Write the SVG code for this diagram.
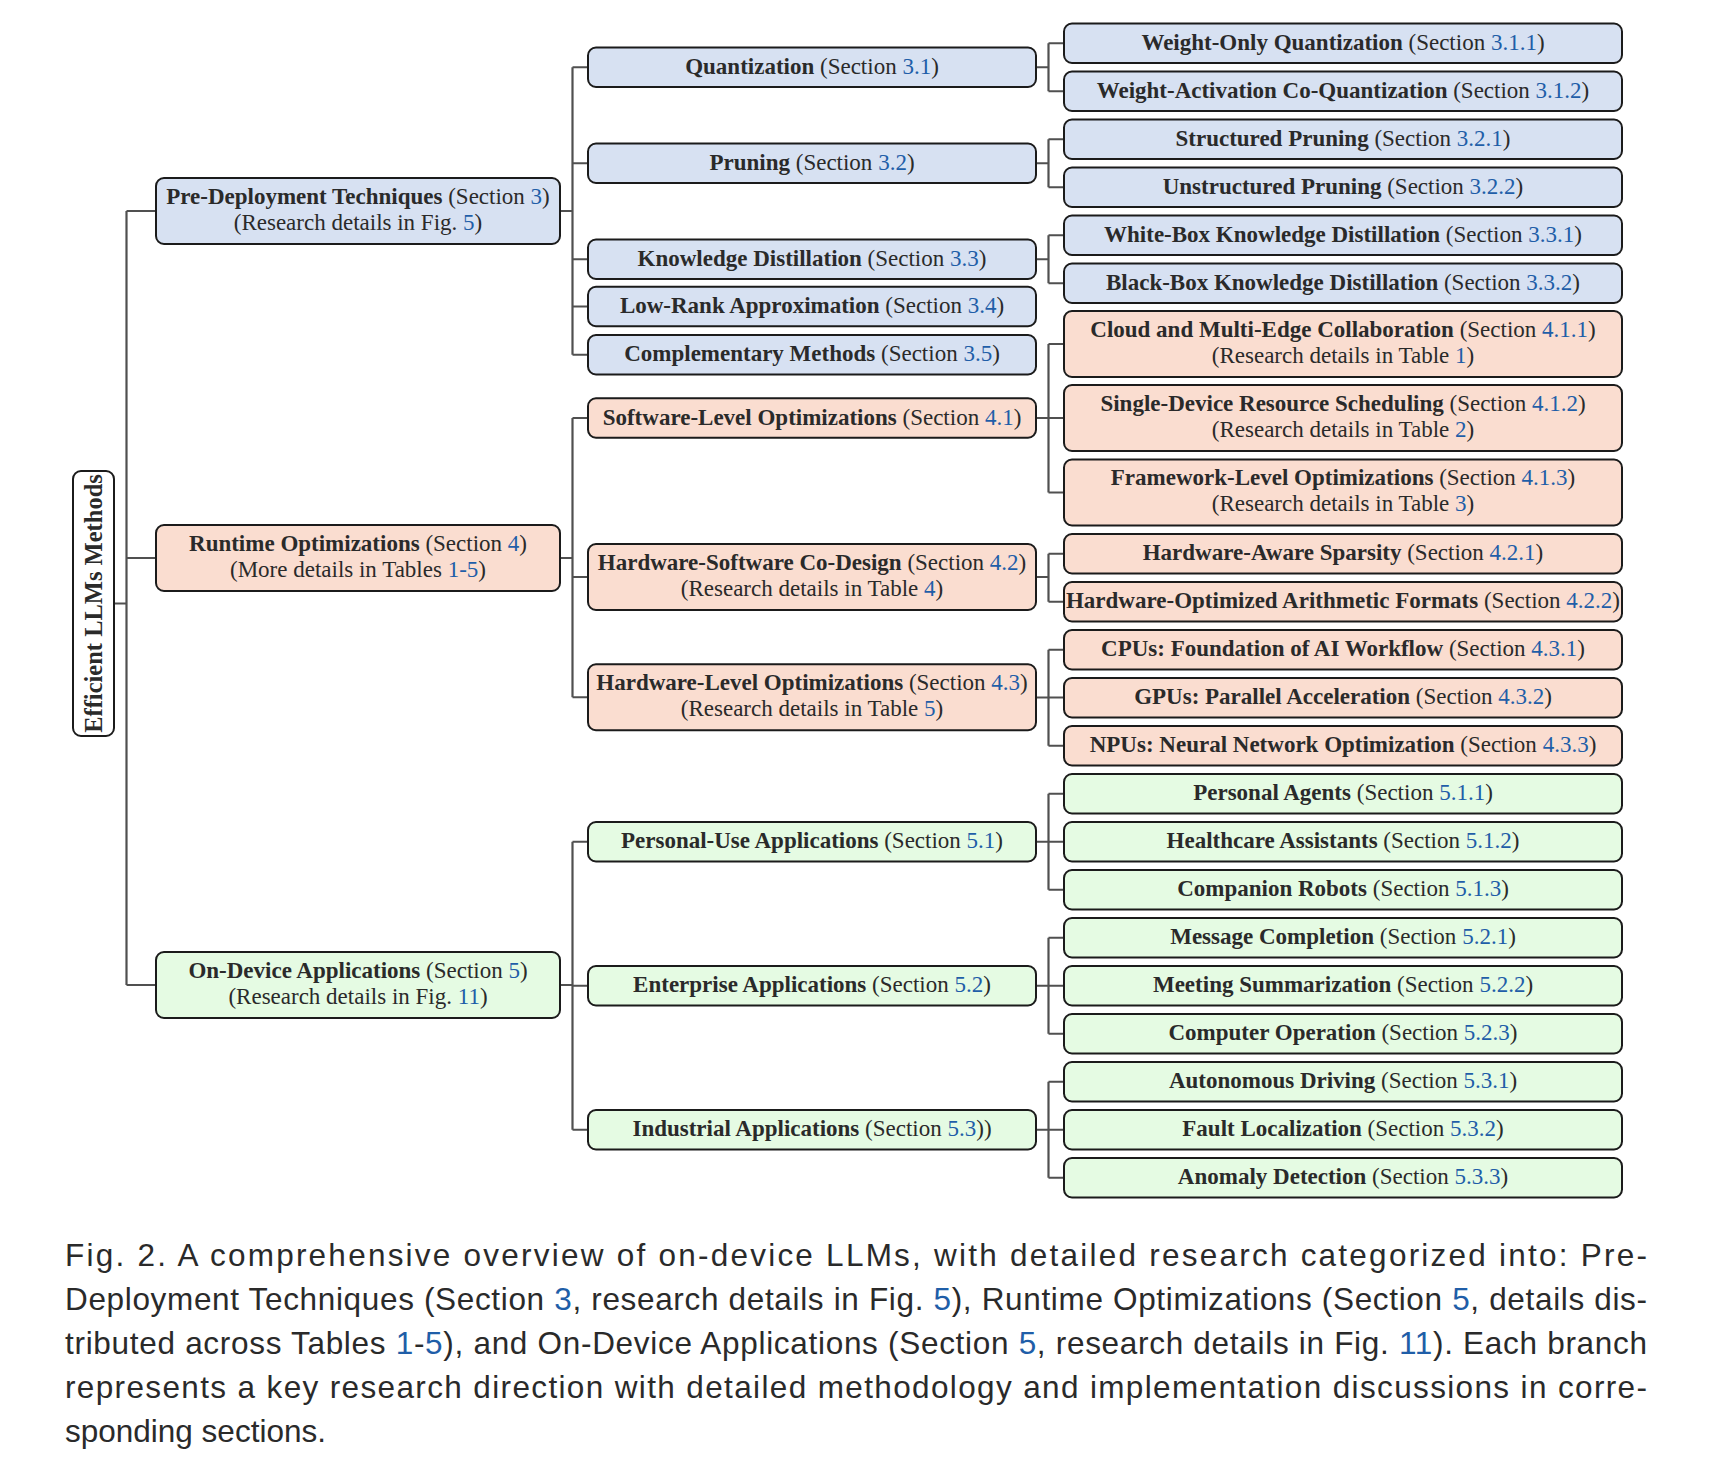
<svg xmlns="http://www.w3.org/2000/svg" width="1713" height="1465" viewBox="0 0 1713 1465">
<style>
.n{stroke:#1b1b1b;stroke-width:2}
.b{fill:#D7E1F2}.p{fill:#FADDD0}.g{fill:#E5FBE3}.w{fill:#ffffff}
.t{font-family:"Liberation Serif",serif;font-size:23px;fill:#2a2a2a;text-anchor:middle}
.r{font-size:24.5px}
.bd{font-weight:bold}
.num{fill:#1f5ea8}
.c{fill:none;stroke:#505050;stroke-width:2.2}
.cap{font-family:"Liberation Sans",sans-serif;font-size:31.5px;fill:#2a2a2a}
</style>
<rect width="1713" height="1465" fill="#ffffff"/>
<g id="connectors">
<path class="c" d="M114,603.5H126.5M126.5,211V985M126.5,211H156M126.5,558H156M126.5,985H156"/>
<path class="c" d="M560,211H572.5M572.5,67.25V354.75M572.5,67.25H588M572.5,163.25H588M572.5,259.25H588M572.5,306.5H588M572.5,354.75H588"/>
<path class="c" d="M560,558H572.5M572.5,418V697.25M572.5,418H588M572.5,577H588M572.5,697.25H588"/>
<path class="c" d="M560,985H572.5M572.5,841.75V1129.75M572.5,841.75H588M572.5,985.75H588M572.5,1129.75H588"/>
<path class="c" d="M1036,67.25H1048.5M1048.5,43.25V91.25M1048.5,43.25H1064M1048.5,91.25H1064"/>
<path class="c" d="M1036,163.25H1048.5M1048.5,139.25V187.25M1048.5,139.25H1064M1048.5,187.25H1064"/>
<path class="c" d="M1036,259.25H1048.5M1048.5,235.25V283.25M1048.5,235.25H1064M1048.5,283.25H1064"/>
<path class="c" d="M1036,418H1064M1048.5,344V492.5M1048.5,344H1064M1048.5,492.5H1064"/>
<path class="c" d="M1036,577H1048.5M1048.5,553.75V601.75M1048.5,553.75H1064M1048.5,601.75H1064"/>
<path class="c" d="M1036,697.5H1064M1048.5,649.75V745.75M1048.5,649.75H1064M1048.5,745.75H1064"/>
<path class="c" d="M1036,841.75H1064M1048.5,793.75V889.75M1048.5,793.75H1064M1048.5,889.75H1064"/>
<path class="c" d="M1036,985.75H1064M1048.5,937.75V1033.75M1048.5,937.75H1064M1048.5,1033.75H1064"/>
<path class="c" d="M1036,1129.75H1064M1048.5,1081.75V1177.75M1048.5,1081.75H1064M1048.5,1177.75H1064"/>
</g>
<g id="root">
<rect class="n w" x="73" y="471" width="41" height="265" rx="8"/>
<text class="t r bd" transform="translate(101.5,603.5) rotate(-90)" x="0" y="0">Efficient LLMs Methods</text>
</g>
<g id="pre-deployment">
<rect class="n b" x="156" y="178" width="404" height="66" rx="8"/>
<text class="t" x="358" y="203.5"><tspan class="bd">Pre-Deployment Techniques</tspan> (Section <tspan class="num">3</tspan>)</text>
<text class="t" x="358" y="229.5">(Research details in Fig. <tspan class="num">5</tspan>)</text>
</g>
<g id="runtime">
<rect class="n p" x="156" y="525" width="404" height="66" rx="8"/>
<text class="t" x="358" y="550.5"><tspan class="bd">Runtime Optimizations</tspan> (Section <tspan class="num">4</tspan>)</text>
<text class="t" x="358" y="576.5">(More details in Tables <tspan class="num">1-5</tspan>)</text>
</g>
<g id="on-device">
<rect class="n g" x="156" y="952" width="404" height="66" rx="8"/>
<text class="t" x="358" y="977.5"><tspan class="bd">On-Device Applications</tspan> (Section <tspan class="num">5</tspan>)</text>
<text class="t" x="358" y="1003.5">(Research details in Fig. <tspan class="num">11</tspan>)</text>
</g>
<g id="quantization">
<rect class="n b" x="588" y="47.5" width="448" height="39.5" rx="8"/>
<text class="t" x="812" y="73.75"><tspan class="bd">Quantization</tspan> (Section <tspan class="num">3.1</tspan>)</text>
</g>
<g id="pruning">
<rect class="n b" x="588" y="143.5" width="448" height="39.5" rx="8"/>
<text class="t" x="812" y="169.75"><tspan class="bd">Pruning</tspan> (Section <tspan class="num">3.2</tspan>)</text>
</g>
<g id="knowledge-distillation">
<rect class="n b" x="588" y="239.5" width="448" height="39.5" rx="8"/>
<text class="t" x="812" y="265.75"><tspan class="bd">Knowledge Distillation</tspan> (Section <tspan class="num">3.3</tspan>)</text>
</g>
<g id="low-rank">
<rect class="n b" x="588" y="286.75" width="448" height="39.5" rx="8"/>
<text class="t" x="812" y="313"><tspan class="bd">Low-Rank Approximation</tspan> (Section <tspan class="num">3.4</tspan>)</text>
</g>
<g id="complementary">
<rect class="n b" x="588" y="335" width="448" height="39.5" rx="8"/>
<text class="t" x="812" y="361.25"><tspan class="bd">Complementary Methods</tspan> (Section <tspan class="num">3.5</tspan>)</text>
</g>
<g id="software-level">
<rect class="n p" x="588" y="398.25" width="448" height="39.5" rx="8"/>
<text class="t" x="812" y="424.5"><tspan class="bd">Software-Level Optimizations</tspan> (Section <tspan class="num">4.1</tspan>)</text>
</g>
<g id="hw-sw-codesign">
<rect class="n p" x="588" y="544" width="448" height="66" rx="8"/>
<text class="t" x="812" y="569.5"><tspan class="bd">Hardware-Software Co-Design</tspan> (Section <tspan class="num">4.2</tspan>)</text>
<text class="t" x="812" y="595.5">(Research details in Table <tspan class="num">4</tspan>)</text>
</g>
<g id="hardware-level">
<rect class="n p" x="588" y="664.25" width="448" height="66" rx="8"/>
<text class="t" x="812" y="689.75"><tspan class="bd">Hardware-Level Optimizations</tspan> (Section <tspan class="num">4.3</tspan>)</text>
<text class="t" x="812" y="715.75">(Research details in Table <tspan class="num">5</tspan>)</text>
</g>
<g id="personal-use">
<rect class="n g" x="588" y="822" width="448" height="39.5" rx="8"/>
<text class="t" x="812" y="848.25"><tspan class="bd">Personal-Use Applications</tspan> (Section <tspan class="num">5.1</tspan>)</text>
</g>
<g id="enterprise">
<rect class="n g" x="588" y="966" width="448" height="39.5" rx="8"/>
<text class="t" x="812" y="992.25"><tspan class="bd">Enterprise Applications</tspan> (Section <tspan class="num">5.2</tspan>)</text>
</g>
<g id="industrial">
<rect class="n g" x="588" y="1110" width="448" height="39.5" rx="8"/>
<text class="t" x="812" y="1136.25"><tspan class="bd">Industrial Applications</tspan> (Section <tspan class="num">5.3</tspan>))</text>
</g>
<g id="weight-only">
<rect class="n b" x="1064" y="23.5" width="558" height="39.5" rx="8"/>
<text class="t" x="1343" y="49.75"><tspan class="bd">Weight-Only Quantization</tspan> (Section <tspan class="num">3.1.1</tspan>)</text>
</g>
<g id="weight-activation">
<rect class="n b" x="1064" y="71.5" width="558" height="39.5" rx="8"/>
<text class="t" x="1343" y="97.75"><tspan class="bd">Weight-Activation Co-Quantization</tspan> (Section <tspan class="num">3.1.2</tspan>)</text>
</g>
<g id="structured-pruning">
<rect class="n b" x="1064" y="119.5" width="558" height="39.5" rx="8"/>
<text class="t" x="1343" y="145.75"><tspan class="bd">Structured Pruning</tspan> (Section <tspan class="num">3.2.1</tspan>)</text>
</g>
<g id="unstructured-pruning">
<rect class="n b" x="1064" y="167.5" width="558" height="39.5" rx="8"/>
<text class="t" x="1343" y="193.75"><tspan class="bd">Unstructured Pruning</tspan> (Section <tspan class="num">3.2.2</tspan>)</text>
</g>
<g id="white-box">
<rect class="n b" x="1064" y="215.5" width="558" height="39.5" rx="8"/>
<text class="t" x="1343" y="241.75"><tspan class="bd">White-Box Knowledge Distillation</tspan> (Section <tspan class="num">3.3.1</tspan>)</text>
</g>
<g id="black-box">
<rect class="n b" x="1064" y="263.5" width="558" height="39.5" rx="8"/>
<text class="t" x="1343" y="289.75"><tspan class="bd">Black-Box Knowledge Distillation</tspan> (Section <tspan class="num">3.3.2</tspan>)</text>
</g>
<g id="cloud-edge">
<rect class="n p" x="1064" y="311" width="558" height="66" rx="8"/>
<text class="t" x="1343" y="336.5"><tspan class="bd">Cloud and Multi-Edge Collaboration</tspan> (Section <tspan class="num">4.1.1</tspan>)</text>
<text class="t" x="1343" y="362.5">(Research details in Table <tspan class="num">1</tspan>)</text>
</g>
<g id="single-device">
<rect class="n p" x="1064" y="385" width="558" height="66" rx="8"/>
<text class="t" x="1343" y="410.5"><tspan class="bd">Single-Device Resource Scheduling</tspan> (Section <tspan class="num">4.1.2</tspan>)</text>
<text class="t" x="1343" y="436.5">(Research details in Table <tspan class="num">2</tspan>)</text>
</g>
<g id="framework-level">
<rect class="n p" x="1064" y="459.5" width="558" height="66" rx="8"/>
<text class="t" x="1343" y="485"><tspan class="bd">Framework-Level Optimizations</tspan> (Section <tspan class="num">4.1.3</tspan>)</text>
<text class="t" x="1343" y="511">(Research details in Table <tspan class="num">3</tspan>)</text>
</g>
<g id="hw-aware-sparsity">
<rect class="n p" x="1064" y="534" width="558" height="39.5" rx="8"/>
<text class="t" x="1343" y="560.25"><tspan class="bd">Hardware-Aware Sparsity</tspan> (Section <tspan class="num">4.2.1</tspan>)</text>
</g>
<g id="hw-arith-formats">
<rect class="n p" x="1064" y="582" width="558" height="39.5" rx="8"/>
<text class="t" x="1343" y="608.25"><tspan class="bd">Hardware-Optimized Arithmetic Formats</tspan> (Section <tspan class="num">4.2.2</tspan>)</text>
</g>
<g id="cpus">
<rect class="n p" x="1064" y="630" width="558" height="39.5" rx="8"/>
<text class="t" x="1343" y="656.25"><tspan class="bd">CPUs: Foundation of AI Workflow</tspan> (Section <tspan class="num">4.3.1</tspan>)</text>
</g>
<g id="gpus">
<rect class="n p" x="1064" y="678" width="558" height="39.5" rx="8"/>
<text class="t" x="1343" y="704.25"><tspan class="bd">GPUs: Parallel Acceleration</tspan> (Section <tspan class="num">4.3.2</tspan>)</text>
</g>
<g id="npus">
<rect class="n p" x="1064" y="726" width="558" height="39.5" rx="8"/>
<text class="t" x="1343" y="752.25"><tspan class="bd">NPUs: Neural Network Optimization</tspan> (Section <tspan class="num">4.3.3</tspan>)</text>
</g>
<g id="personal-agents">
<rect class="n g" x="1064" y="774" width="558" height="39.5" rx="8"/>
<text class="t" x="1343" y="800.25"><tspan class="bd">Personal Agents</tspan> (Section <tspan class="num">5.1.1</tspan>)</text>
</g>
<g id="healthcare">
<rect class="n g" x="1064" y="822" width="558" height="39.5" rx="8"/>
<text class="t" x="1343" y="848.25"><tspan class="bd">Healthcare Assistants</tspan> (Section <tspan class="num">5.1.2</tspan>)</text>
</g>
<g id="companion-robots">
<rect class="n g" x="1064" y="870" width="558" height="39.5" rx="8"/>
<text class="t" x="1343" y="896.25"><tspan class="bd">Companion Robots</tspan> (Section <tspan class="num">5.1.3</tspan>)</text>
</g>
<g id="message-completion">
<rect class="n g" x="1064" y="918" width="558" height="39.5" rx="8"/>
<text class="t" x="1343" y="944.25"><tspan class="bd">Message Completion</tspan> (Section <tspan class="num">5.2.1</tspan>)</text>
</g>
<g id="meeting-summarization">
<rect class="n g" x="1064" y="966" width="558" height="39.5" rx="8"/>
<text class="t" x="1343" y="992.25"><tspan class="bd">Meeting Summarization</tspan> (Section <tspan class="num">5.2.2</tspan>)</text>
</g>
<g id="computer-operation">
<rect class="n g" x="1064" y="1014" width="558" height="39.5" rx="8"/>
<text class="t" x="1343" y="1040.25"><tspan class="bd">Computer Operation</tspan> (Section <tspan class="num">5.2.3</tspan>)</text>
</g>
<g id="autonomous-driving">
<rect class="n g" x="1064" y="1062" width="558" height="39.5" rx="8"/>
<text class="t" x="1343" y="1088.25"><tspan class="bd">Autonomous Driving</tspan> (Section <tspan class="num">5.3.1</tspan>)</text>
</g>
<g id="fault-localization">
<rect class="n g" x="1064" y="1110" width="558" height="39.5" rx="8"/>
<text class="t" x="1343" y="1136.25"><tspan class="bd">Fault Localization</tspan> (Section <tspan class="num">5.3.2</tspan>)</text>
</g>
<g id="anomaly-detection">
<rect class="n g" x="1064" y="1158" width="558" height="39.5" rx="8"/>
<text class="t" x="1343" y="1184.25"><tspan class="bd">Anomaly Detection</tspan> (Section <tspan class="num">5.3.3</tspan>)</text>
</g>
<g id="caption">
<text class="cap" x="65" y="1266" textLength="1582" lengthAdjust="spacing">Fig. 2. A comprehensive overview of on-device LLMs, with detailed research categorized into: Pre-</text>
<text class="cap" x="65" y="1310" textLength="1582" lengthAdjust="spacing">Deployment Techniques (Section <tspan class="num">3</tspan>, research details in Fig. <tspan class="num">5</tspan>), Runtime Optimizations (Section <tspan class="num">5</tspan>, details dis-</text>
<text class="cap" x="65" y="1354" textLength="1582" lengthAdjust="spacing">tributed across Tables <tspan class="num">1</tspan>-<tspan class="num">5</tspan>), and On-Device Applications (Section <tspan class="num">5</tspan>, research details in Fig. <tspan class="num">11</tspan>). Each branch</text>
<text class="cap" x="65" y="1398" textLength="1582" lengthAdjust="spacing">represents a key research direction with detailed methodology and implementation discussions in corre-</text>
<text class="cap" x="65" y="1442">sponding sections.</text>
</g>
</svg>
